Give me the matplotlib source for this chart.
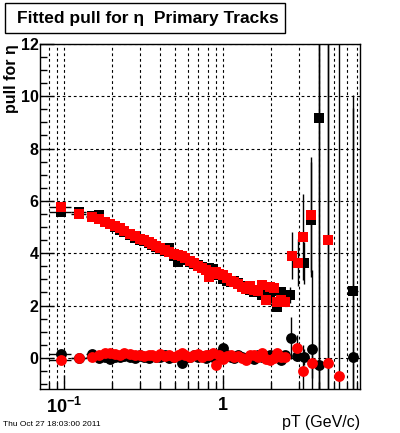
import numpy as np
import matplotlib
matplotlib.use("Agg")
import matplotlib.pyplot as plt
from matplotlib.patches import Rectangle
from matplotlib.ticker import LogLocator, NullFormatter, FixedLocator, MultipleLocator

plt.rcParams['font.family'] = ['Liberation Sans', 'DejaVu Sans']
plt.rcParams['mathtext.fontset'] = 'custom'
plt.rcParams['mathtext.rm'] = 'Liberation Sans:bold'
plt.rcParams['mathtext.bf'] = 'Liberation Sans:bold'

# ---------------- data ----------------
pt_dense = [0.096, 0.124, 0.15, 0.165, 0.18, 0.195, 0.21, 0.225, 0.24, 0.26,
            0.28, 0.30, 0.32, 0.34, 0.36, 0.38, 0.40, 0.43, 0.46, 0.49,
            0.52, 0.55, 0.58, 0.62, 0.66, 0.70, 0.74, 0.78, 0.82, 0.86,
            0.90, 0.95, 1.00, 1.06, 1.12, 1.18, 1.25, 1.32, 1.40, 1.48,
            1.57, 1.66, 1.76, 1.86, 1.97, 2.08, 2.20, 2.33, 2.47]

red_sigma = [5.78, 5.50, 5.38, 5.32, 5.20, 5.12, 5.05, 4.95, 4.85, 4.75,
             4.65, 4.55, 4.50, 4.42, 4.35, 4.28, 4.20, 4.12, 4.05, 3.98,
             3.92, 3.88, 3.80, 3.70, 3.62, 3.52, 3.45, 3.35, 3.10, 3.25,
             3.30, 3.20, 3.15, 3.05, 2.95, 2.90, 2.82, 2.70, 2.65, 2.75,
             2.60, 2.55, 2.80, 2.20, 2.70, 2.68, 2.15, 2.20, 2.15]

black_sigma = [5.58, 5.58, 5.42, 5.45, 5.20, 5.10, 5.00, 4.90, 4.82, 4.70,
               4.60, 4.52, 4.48, 4.40, 4.30, 4.22, 4.15, 4.10, 4.20, 3.90,
               3.65, 3.82, 3.75, 3.68, 3.60, 3.55, 3.48, 3.40, 3.42, 3.38,
               3.30, 3.15, 3.00, 2.95, 2.90, 2.95, 2.85, 2.75, 2.70, 2.60,
               2.50, 2.55, 2.40, 2.50, 2.30, 2.55, 1.95, 2.50, 2.40]

red_mean = [-0.10, 0.00, 0.02, 0.10, 0.18, 0.20, 0.15, 0.12, 0.18, 0.15,
            0.12, 0.10, 0.08, 0.10, 0.12, 0.05, 0.15, 0.08, 0.10, 0.05,
            0.12, 0.20, 0.10, 0.05, 0.10, 0.15, 0.05, 0.12, 0.10, 0.20,
            -0.27, 0.10, -0.05, 0.08, 0.12, 0.05, 0.08, 0.00, -0.08, 0.10,
            0.12, 0.05, 0.20, -0.05, -0.10, 0.00, 0.20, 0.05, 0.05]

black_mean = [0.15, 0.00, 0.15, 0.00, 0.05, -0.05, 0.05, 0.02, 0.08, 0.05,
              0.00, 0.10, 0.05, 0.00, 0.08, 0.02, 0.05, 0.10, 0.00, 0.05,
              0.08, -0.20, 0.00, 0.05, 0.10, 0.02, 0.08, 0.00, 0.10, 0.05,
              0.05, 0.15, 0.38, 0.10, 0.05, 0.00, 0.10, 0.05, 0.00, 0.05,
              -0.05, 0.10, 0.05, 0.00, 0.10, 0.05, 0.08, -0.10, 0.10]

# sparse high-pT bins
red_sigma_hi_pt = [2.72, 2.96, 3.18, 3.57, 4.57]
red_sigma_hi = [3.90, 3.63, 4.63, 5.47, 4.50]
red_sigma_hi_err = [0.90, 0.90, 1.65, 2.20, 30.0]

black_sigma_hi_pt = [2.64, 3.23, 3.57, 4.01, 6.57]
black_sigma_hi = [2.40, 3.63, 5.28, 9.18, 2.56]
black_sigma_hi_err = [0.30, 0.80, 2.20, 30.0, 7.00]

red_mean_hi_pt = [2.92, 3.18, 3.63, 4.57, 5.36]
red_mean_hi = [0.38, -0.50, -0.18, -0.18, -0.69]
red_mean_hi_err = [0.50, 1.00, 0.60, 30.0, 30.0]

black_mean_hi_pt = [2.68, 2.92, 3.23, 3.63, 4.01, 6.57]
black_mean_hi = [0.75, 0.08, 0.04, 0.34, -0.27, 0.04]
black_mean_hi_err = [0.80, 0.20, 0.30, 3.00, 30.0, 10.0]

first_bin_low = 0.08
last_bin_halfwidth = 0.5

title = "Fitted pull for η  Primary Tracks"
ylabel = "pull for η"
xlabel = "pT (GeV/c)"
datestamp = "Thu Oct 27 18:03:00 2011"

# ---------------- figure ----------------
fig = plt.figure(figsize=(4.0, 4.33), dpi=100)
ax = fig.add_axes([0.10, 0.1016, 0.80, 0.797])
ax.set_xscale('log')
ax.set_xlim(0.0706, 7.27)
ax.set_ylim(-1.19, 12.0)


def dense_xerr(x):
    x = np.asarray(x, float)
    mids = (x[1:] + x[:-1]) / 2
    lo = np.empty_like(x)
    hi = np.empty_like(x)
    lo[1:] = x[1:] - mids
    hi[:-1] = mids - x[:-1]
    lo[0] = x[0] - first_bin_low
    hi[-1] = lo[-1]
    return np.vstack([lo, hi])


xe = dense_xerr(pt_dense)
ms = 7.8
common = dict(ecolor='black', elinewidth=1.0, capsize=0, linestyle='none')

# black series
ax.errorbar(pt_dense, black_sigma, xerr=xe, yerr=0.03, fmt='s', color='black',
            ms=ms, mew=0, zorder=3, **common)
ax.errorbar(pt_dense, black_mean, xerr=xe, yerr=0.03, fmt='o', color='black',
            ms=ms, mew=0, zorder=3, **common)
bxs = [0.0] * (len(black_sigma_hi_pt) - 1) + [last_bin_halfwidth]
ax.errorbar(black_sigma_hi_pt, black_sigma_hi, yerr=black_sigma_hi_err, xerr=bxs,
            fmt='s', color='black', ms=ms, mew=0, zorder=3, **common)
bxm = [0.0] * (len(black_mean_hi_pt) - 1) + [last_bin_halfwidth]
ax.errorbar(black_mean_hi_pt, black_mean_hi, yerr=black_mean_hi_err, xerr=bxm,
            fmt='o', color='black', ms=ms, mew=0, zorder=3, **common)

# red series
red = '#ff0000'
ax.errorbar(pt_dense, red_sigma, xerr=xe, yerr=0.03, fmt='s', color=red,
            ms=ms, mew=0, zorder=4, **common)
ax.errorbar(pt_dense, red_mean, xerr=xe, yerr=0.03, fmt='o', color=red,
            ms=ms, mew=0, zorder=4, **common)
ax.errorbar(red_sigma_hi_pt, red_sigma_hi, yerr=red_sigma_hi_err,
            fmt='s', color=red, ms=ms, mew=0, zorder=4, **common)
ax.errorbar(red_mean_hi_pt, red_mean_hi, yerr=red_mean_hi_err,
            fmt='o', color=red, ms=ms, mew=0, zorder=4, **common)

# axes styling (ROOT-like)
ax.xaxis.set_major_locator(FixedLocator([0.1, 1.0]))
ax.xaxis.set_minor_locator(LogLocator(base=10, subs=np.arange(2, 10) * 1.0, numticks=20))
ax.xaxis.set_minor_formatter(NullFormatter())
ax.set_xticklabels([r'$\mathbf{10^{-1}}$', r'$\mathbf{1}$'])
ax.yaxis.set_major_locator(MultipleLocator(2))
ax.yaxis.set_minor_locator(MultipleLocator(0.5))
ax.tick_params(axis='both', which='both', direction='in', top=False, right=False)
ax.tick_params(axis='y', which='major', length=10, width=1, labelsize=11.5, pad=1)
ax.tick_params(axis='y', which='minor', length=5, width=1)
ax.tick_params(axis='x', which='major', length=10, width=1, labelsize=13, pad=6)
ax.tick_params(axis='x', which='minor', length=5, width=1)
for lab in ax.get_yticklabels():
    lab.set_fontweight('bold')

ax.grid(True, which='major', axis='y', color='black', lw=0.8, linestyle=(0, (2.5, 2.5)))
ax.grid(True, which='both', axis='x', color='black', lw=0.8, linestyle=(0, (2.5, 2.5)))
ax.set_axisbelow(True)
for sp in ax.spines.values():
    sp.set_linewidth(1.0)

ax.set_ylabel(ylabel, fontsize=11.5, fontweight='bold', loc='top', labelpad=1)

fig.text(360 / 400, 1 - 423 / 433, xlabel, ha='right', va='center',
         fontsize=11.5, fontweight='normal')

# title box
box = Rectangle((5 / 400, 1 - 33 / 433), 280 / 400, 30 / 433, transform=fig.transFigure,
                facecolor='white', edgecolor='black', lw=1.0)
fig.patches.append(box)
fig.text(148 / 400, 1 - 18 / 433, title, ha='center', va='center',
         fontsize=12.5, fontweight='bold')

fig.text(3 / 400, 1 - 425 / 433, datestamp, ha='left', va='center', fontsize=6)

fig.savefig('out.png', dpi=100)
